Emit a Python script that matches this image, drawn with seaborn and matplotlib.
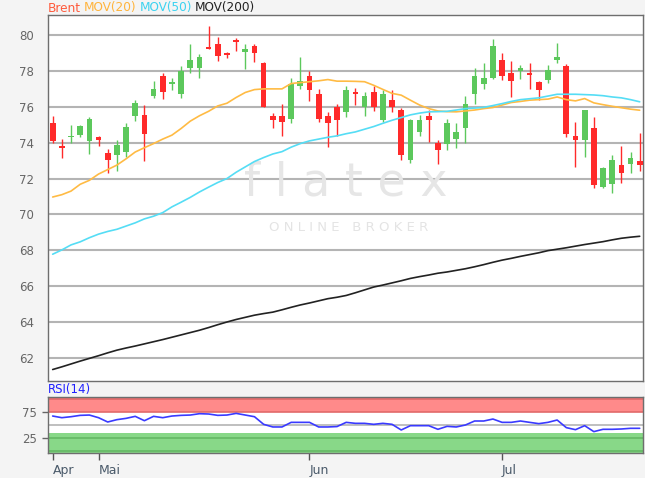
import numpy as np
import matplotlib
matplotlib.use("Agg")
import matplotlib.pyplot as plt
import seaborn as sns

sns.set_style("white")
plt.rcParams["font.family"] = ["DejaVu Sans"]

# ---------------------------------------------------
# data (one entry per trading day)
# ---------------------------------------------------
opens = [75.07, 73.82, 74.3, 74.43, 74.08, 74.3, 73.43, 73.3, 73.48, 75.47,
         75.53, 76.6, 77.7, 77.25, 76.7, 78.17, 78.14, 79.35, 79.48, 79.0,
         79.72, 79.07, 79.4, 78.42, 75.47, 75.47, 75.3, 77.15, 77.7, 76.74,
         75.47, 76.0, 75.72, 76.83, 76.0, 76.83, 75.29, 76.4, 75.81, 73.02,
         74.6, 75.47, 73.98, 73.91, 74.23, 74.84, 76.69, 77.3, 77.63, 78.6,
         77.86, 78.0, 77.9, 77.36, 77.49, 78.6, 78.29, 74.36, 74.13, 74.82,
         71.53, 71.68, 72.74, 72.79, 72.96]
closes = [74.1, 73.72, 74.4, 74.95, 75.3, 74.13, 73.02, 73.85, 74.88, 76.2,
          74.5, 77.0, 76.83, 77.4, 78.0, 78.6, 78.8, 79.22, 78.85, 78.88,
          79.6, 79.25, 78.98, 76.0, 75.25, 75.16, 77.3, 77.45, 76.96, 75.3,
          75.1, 75.29, 76.96, 76.7, 76.6, 76.0, 76.74, 76.0, 73.3, 75.25,
          75.25, 75.25, 73.57, 75.07, 74.6, 76.15, 77.73, 77.6, 79.4, 77.7,
          77.43, 78.14, 77.8, 76.96, 78.08, 78.75, 74.5, 74.13, 75.81, 71.62,
          72.6, 73.02, 72.31, 73.15, 72.77]
highs = [75.5, 74.2, 75.0, 75.0, 75.44, 74.36, 73.67, 74.13, 75.07, 76.37,
         76.1, 77.43, 77.9, 77.6, 78.27, 79.5, 78.94, 80.5, 79.87, 79.07,
         79.81, 79.5, 79.53, 78.5, 75.66, 76.18, 77.6, 78.75, 78.0, 77.0,
         75.72, 76.15, 77.15, 77.07, 76.83, 77.15, 76.93, 76.93, 75.96, 75.34,
         75.53, 75.85, 74.17, 75.34, 75.12, 76.6, 78.14, 78.42, 79.76, 78.98,
         78.55, 78.32, 78.47, 77.45, 78.32, 79.57, 78.38, 75.16, 75.81, 75.44,
         72.64, 73.3, 73.8, 73.48, 74.54]
lows = [74.0, 73.17, 74.0, 74.3, 73.35, 73.84, 72.3, 72.42, 73.2, 75.2,
        73.0, 76.5, 76.43, 76.96, 76.5, 77.86, 77.58, 79.22, 78.57, 78.7,
        79.12, 78.1, 78.5, 76.0, 74.84, 74.4, 75.1, 77.0, 76.3, 75.15,
        73.76, 74.4, 75.44, 76.1, 75.47, 75.77, 75.16, 75.72, 73.05, 72.89,
        74.38, 74.04, 72.83, 73.57, 73.7, 73.98, 76.18, 77.02, 77.54, 77.49,
        76.55, 77.54, 77.0, 76.37, 77.34, 78.42, 74.32, 72.64, 73.2, 71.49,
        71.45, 71.19, 71.75, 72.33, 72.4]

mov20 = [70.97, 71.1, 71.3, 71.68, 71.9, 72.25, 72.5, 72.75, 73.1, 73.48,
         73.72, 73.95, 74.2, 74.42, 74.79, 75.2, 75.5, 75.75, 76.05, 76.2,
         76.52, 76.8, 76.96, 77.0, 77.0, 77.0, 77.3, 77.35, 77.4, 77.45,
         77.52, 77.43, 77.43, 77.42, 77.4, 77.2, 76.97, 76.75, 76.65, 76.37,
         76.1, 75.9, 75.77, 75.73, 75.72, 75.77, 75.82, 75.9, 75.96, 76.1,
         76.24, 76.3, 76.37, 76.4, 76.43, 76.55, 76.4, 76.33, 76.46, 76.22,
         76.12, 76.03, 75.95, 75.87, 75.81]
mov50 = [67.78, 68.02, 68.3, 68.47, 68.7, 68.9, 69.05, 69.17, 69.35, 69.53,
         69.75, 69.9, 70.1, 70.42, 70.68, 70.95, 71.25, 71.52, 71.78, 72.0,
         72.35, 72.65, 72.95, 73.17, 73.37, 73.5, 73.75, 73.95, 74.1, 74.2,
         74.3, 74.38, 74.5, 74.6, 74.75, 74.9, 75.08, 75.25, 75.4, 75.55,
         75.65, 75.72, 75.73, 75.75, 75.82, 75.9, 75.93, 75.97, 76.07, 76.18,
         76.3, 76.4, 76.45, 76.5, 76.6, 76.7, 76.7, 76.7, 76.68, 76.66,
         76.62, 76.55, 76.5, 76.4, 76.28]
mov200 = [61.35, 61.5, 61.66, 61.82, 61.97, 62.12, 62.28, 62.43, 62.55, 62.66,
          62.78, 62.9, 63.02, 63.15, 63.28, 63.41, 63.54, 63.69, 63.85, 64.0,
          64.14, 64.26, 64.38, 64.47, 64.55, 64.68, 64.82, 64.95, 65.06, 65.18,
          65.3, 65.38, 65.48, 65.63, 65.79, 65.95, 66.06, 66.18, 66.3, 66.43,
          66.53, 66.62, 66.72, 66.79, 66.88, 66.97, 67.08, 67.2, 67.33, 67.45,
          67.55, 67.66, 67.76, 67.86, 67.98, 68.06, 68.14, 68.23, 68.32, 68.4,
          68.48, 68.58, 68.67, 68.73, 68.78]
rsi = [67.3, 64.1, 66.0, 68.6, 69.2, 64.1, 55.8, 60.3, 62.8, 66.7,
       58.3, 66.7, 64.1, 67.3, 68.6, 69.2, 71.8, 71.2, 68.6, 69.2,
       72.4, 69.2, 66.0, 51.3, 46.2, 46.2, 55.1, 55.1, 55.1, 46.2,
       46.2, 47.0, 55.1, 53.2, 53.2, 51.3, 53.2, 51.3, 40.4, 48.7,
       48.7, 48.7, 41.7, 47.4, 46.2, 50.0, 57.7, 57.7, 61.5, 55.1,
       55.1, 57.7, 55.1, 52.6, 55.1, 59.6, 44.9, 41.0, 48.7, 37.2,
       41.7, 41.7, 42.3, 43.6, 43.6]

month_pos = [0, 5, 28, 49]
month_labels = ["Apr", "Mai", "Jun", "Jul"]

legend_labels = ["Brent", "MOV(20)", "MOV(50)", "MOV(200)"]
legend_colors = ["#ff5a3c", "#ffb43c", "#3cd2f0", "#222222"]

RED = "#ff2a2a"
GREEN = "#5cc85c"

# ---------------------------------------------------
# figure layout
# ---------------------------------------------------
W, H = 645, 478
fig = plt.figure(figsize=(W / 100, H / 100), dpi=100, facecolor="#f4f4f4")
ax = fig.add_axes([48 / W, 97 / H, 595 / W, 366 / H])
ax_rsi = fig.add_axes([48 / W, 25 / H, 595 / W, 56 / H], sharex=ax)

idx = np.arange(len(opens))
o = np.array(opens)
c = np.array(closes)
up = c >= o
colors = np.where(up, GREEN, RED)
bottoms = np.minimum(o, c)
heights = np.maximum(np.abs(c - o), 0.07)

# ---------------------------------------------------
# main price panel
# ---------------------------------------------------
ax.vlines(idx, lows, highs, colors=colors, linewidth=1, zorder=3)
ax.bar(idx, heights, bottom=bottoms, width=0.62, color=colors, linewidth=0, zorder=4)

sns.lineplot(x=idx, y=mov20, ax=ax, color="#ffbb44", linewidth=1.2, zorder=5)
sns.lineplot(x=idx, y=mov50, ax=ax, color="#55ddf5", linewidth=1.2, zorder=5)
sns.lineplot(x=idx, y=mov200, ax=ax, color="#222222", linewidth=1.2, zorder=5)

ax.set_xlim(-0.51, 64.36)
ax.set_ylim(60.71, 81.12)
ax.set_yticks(range(62, 81, 2))
ax.yaxis.grid(True, color="#b4b4b4", linewidth=1.5, zorder=0)
ax.xaxis.grid(False)
ax.set_axisbelow(True)
ax.tick_params(axis="y", length=0, pad=10, labelsize=8.5, labelcolor="#666666")
ax.tick_params(axis="x", length=0, labelbottom=False)
for s in ax.spines.values():
    s.set_color("#6e6e6e")
    s.set_linewidth(1)
ax.set_xlabel("")
ax.set_ylabel("")

# watermark
ax.text(0.5, 0.54, "f l a t e x", transform=ax.transAxes, ha="center", va="center",
        fontsize=33, color="#e6e6e6", zorder=1)
ax.text(0.505, 0.42, "O N L I N E   B R O K E R", transform=ax.transAxes,
        ha="center", va="center", fontsize=9.5, color="#e4e4e4", zorder=1)

# ---------------------------------------------------
# RSI panel
# ---------------------------------------------------
ax_rsi.axhspan(75, 104, color="#ff8a8a", linewidth=0, zorder=0)
ax_rsi.axhspan(-4, 34, color="#88d888", linewidth=0, zorder=0)
for lv in (100, 75):
    ax_rsi.axhline(lv, color="#e26a6a", linewidth=1.2, zorder=1)
for lv in (25, 0):
    ax_rsi.axhline(lv, color="#64b864", linewidth=1.2, zorder=1)
ax_rsi.axhline(50, color="#b4b4b4", linewidth=1.2, zorder=1)

sns.lineplot(x=idx, y=rsi, ax=ax_rsi, color="#3a3aff", linewidth=1.2, zorder=3)

ax_rsi.set_ylim(-4, 104)
ax_rsi.set_yticks([25, 75])
ax_rsi.set_xticks(month_pos)
ax_rsi.set_xticklabels(month_labels)
for lbl in ax_rsi.get_xticklabels():
    lbl.set_horizontalalignment("left")
ax_rsi.tick_params(axis="y", left=True, length=4, width=1, color="#666666",
                   pad=4, labelsize=8.5, labelcolor="#666666")
ax_rsi.tick_params(axis="x", bottom=True, length=5, width=1, color="#555555",
                   pad=3, labelsize=9, labelcolor="#4a5a6a")
for s in ax_rsi.spines.values():
    s.set_color("#6e6e6e")
    s.set_linewidth(1)
ax_rsi.set_xlabel("")
ax_rsi.set_ylabel("")

fig.text(48 / W, 1 - 389 / H, "RSI(14)", color="#2020ff", fontsize=8.5, va="center")

# legend as coloured words in a row
renderer = fig.canvas.get_renderer()
x = 48 / W
for label, col in zip(legend_labels, legend_colors):
    t = fig.text(x, 1 - 8 / H, label, color=col, fontsize=8.7, va="center")
    bb = t.get_window_extent(renderer=renderer)
    x = (bb.x1 + 3) / W

fig.savefig("out.png", dpi=100, facecolor=fig.get_facecolor())
